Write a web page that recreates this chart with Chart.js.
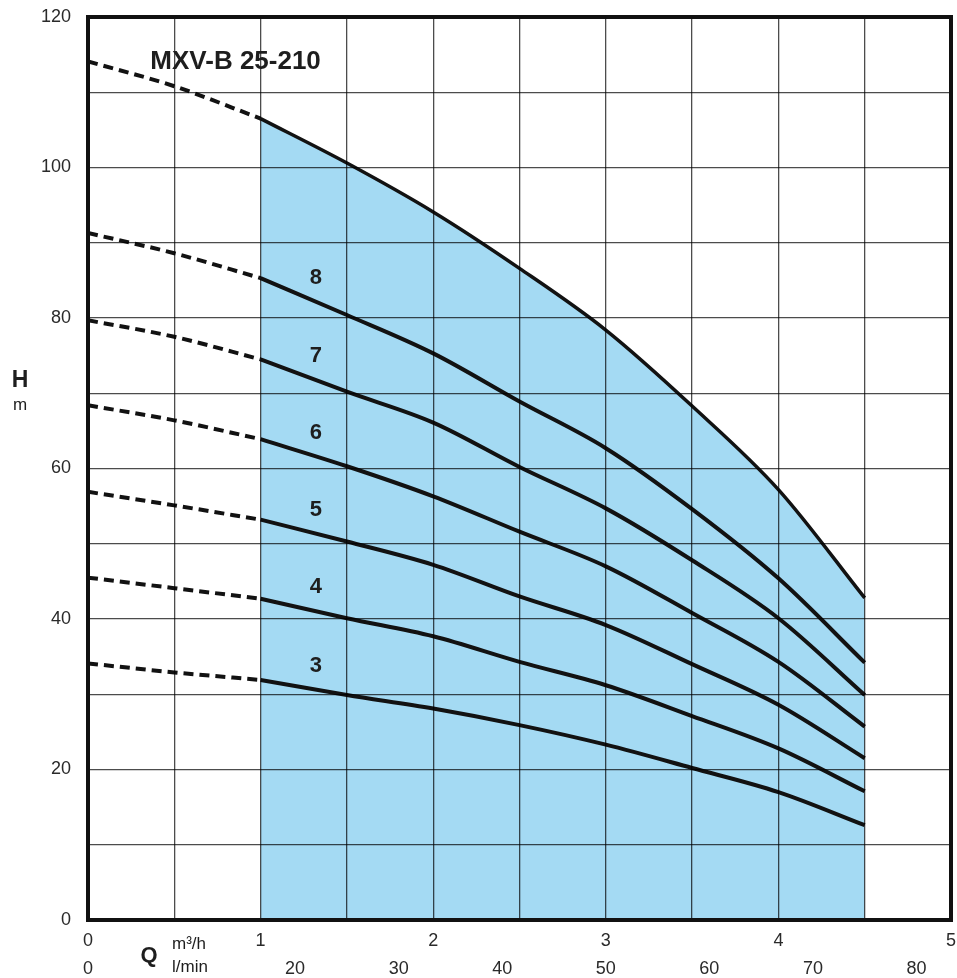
<!DOCTYPE html>
<html>
<head>
<meta charset="utf-8">
<script src="https://cdn.jsdelivr.net/npm/chart.js@4.4.1/dist/chart.umd.min.js"></script>
<style>
  body { margin: 0; background: #fff; }
  #wrap { width: 957px; height: 978px; position: relative; }
</style>
</head>
<body>
<div id="wrap"><canvas id="chart"></canvas></div>
<script>
// flow Q in m3/h, head H in m
const flow = [0, 0.5, 1, 1.5, 2, 2.5, 3, 3.5, 4, 4.5];
const headMax = [114.1, 110.8, 106.5, 100.6, 94.1, 86.6, 78.4, 68.3, 57.2, 42.8];
const head8 = [91.3, 88.6, 85.3, 80.4, 75.3, 68.9, 62.7, 54.6, 45.4, 34.2];
const head7 = [79.7, 77.5, 74.5, 70.2, 66.1, 60.2, 54.7, 47.8, 40.1, 29.9];
const head6 = [68.4, 66.4, 63.9, 60.3, 56.3, 51.6, 47.0, 40.8, 34.3, 25.7];
const head5 = [56.9, 55.1, 53.2, 50.3, 47.2, 43.0, 39.2, 34.0, 28.6, 21.5];
const head4 = [45.5, 44.1, 42.7, 40.1, 37.7, 34.3, 31.2, 27.1, 22.8, 17.1];
const head3 = [34.1, 32.9, 31.9, 29.9, 28.1, 25.9, 23.3, 20.2, 17.0, 12.6];
const stageNames = ['8', '7', '6', '5', '4', '3'];
const stageHeads = [head8, head7, head6, head5, head4, head3];
const modelName = 'MXV-B 25-210';
const flowTicks = [0, 1, 2, 3, 4, 5];
const lminTicks = [0, 20, 30, 40, 50, 60, 70, 80];
const headTicks = [0, 20, 40, 60, 80, 100, 120];

const minFlow = 1;   // working range starts here
const font = '"Liberation Sans", Arial, sans-serif';
const gridColor = 'rgba(0,0,0,0.7)';

function points(values, from, to) {
    return flow.map((q, i) => ({ x: q, y: values[i] }))
        .filter(p => p.x >= from && p.x <= to);
}

function headAt(values, q) {
    for (let i = 1; i < flow.length; i++) {
        if (q <= flow[i]) {
            const t = (q - flow[i - 1]) / (flow[i] - flow[i - 1]);
            return values[i - 1] + t * (values[i] - values[i - 1]);
        }
    }
    return values[values.length - 1];
}

const datasets = [];
[headMax, ...stageHeads].forEach((values, i) => {
    datasets.push({
        data: points(values, minFlow, 5),
        borderColor: '#121212',
        borderWidth: i === 0 ? 3.5 : 4,
        pointRadius: 0,
        cubicInterpolationMode: 'monotone',
        fill: i === 0 ? 'origin' : false,
        backgroundColor: '#a4daf3',
    });
    datasets.push({
        data: points(values, 0, minFlow),
        borderColor: '#121212',
        borderWidth: 4,
        borderDash: [10, 6],
        pointRadius: 0,
        cubicInterpolationMode: 'monotone',
        fill: false,
    });
});

const textPlugin = {
    id: 'pumpText',
    afterDraw(chart) {
        const { ctx, chartArea, scales: { x, y } } = chart;
        ctx.save();
        ctx.strokeStyle = '#111';
        ctx.lineWidth = 4;
        ctx.strokeRect(chartArea.left, chartArea.top,
            chartArea.right - chartArea.left, chartArea.bottom - chartArea.top);

        ctx.fillStyle = '#1e1e1e';
        ctx.textAlign = 'center';
        ctx.textBaseline = 'middle';
        const labelFlow = 1.32;
        ctx.font = 'bold 22px ' + font;
        stageNames.forEach((name, i) => {
            const h = headAt(stageHeads[i], labelFlow);
            ctx.fillText(name, x.getPixelForValue(labelFlow), y.getPixelForValue(h) - 24);
        });
        ctx.font = 'bold 26px ' + font;
        ctx.fillText(modelName, x.getPixelForValue(0.855), y.getPixelForValue(114.1));

        ctx.font = 'bold 23px ' + font;
        ctx.fillText('H', 20, 381);
        ctx.font = '17px ' + font;
        ctx.fillText('m', 20, 405);
        ctx.font = 'bold 22px ' + font;
        ctx.fillText('Q', 149, 956);
        ctx.textAlign = 'left';
        ctx.font = '17px ' + font;
        ctx.fillText('m³/h', 172, 944);
        ctx.fillText('l/min', 172, 967);
        ctx.restore();
    }
};

new Chart(document.getElementById('chart'), {
    type: 'line',
    data: { datasets },
    options: {
        responsive: true,
        maintainAspectRatio: false,
        animation: false,
        layout: { padding: { left: 0, top: 17, right: 6, bottom: 0 } },
        plugins: {
            legend: { display: false },
            tooltip: { enabled: false },
            filler: { drawTime: 'beforeDatasetsDraw' },
        },
        scales: {
            x: {
                type: 'linear',
                min: 0,
                max: 5,
                position: 'bottom',
                grid: { color: gridColor, lineWidth: 1.3, tickLength: 10, tickColor: 'rgba(0,0,0,0)', z: 1 },
                border: { display: false },
                ticks: {
                    stepSize: 0.5,
                    autoSkip: false,
                    maxRotation: 0,
                    padding: 0,
                    color: '#2a2a2a',
                    font: { family: font, size: 18 },
                    callback: v => flowTicks.includes(v) ? v : '',
                },
                afterFit: s => { s.height = 30; },
            },
            x2: {
                type: 'linear',
                min: 0,
                max: 5 * 1000 / 60,
                position: 'bottom',
                grid: { display: false },
                border: { display: false },
                afterBuildTicks: s => { s.ticks = lminTicks.map(v => ({ value: v })); },
                ticks: {
                    autoSkip: false,
                    maxRotation: 0,
                    padding: 0,
                    color: '#2a2a2a',
                    font: { family: font, size: 18 },
                },
                afterFit: s => { s.height = 28; },
            },
            y: {
                type: 'linear',
                min: 0,
                max: 120,
                grid: { color: gridColor, lineWidth: 1.3, tickLength: 17, tickColor: 'rgba(0,0,0,0)', z: 1 },
                border: { display: false },
                ticks: {
                    stepSize: 10,
                    padding: 0,
                    color: '#2a2a2a',
                    font: { family: font, size: 18 },
                    callback: v => headTicks.includes(v) ? v : '',
                },
                afterFit: s => { s.width = 88; },
            },
        },
    },
    plugins: [textPlugin],
});
</script>
</body>
</html>
